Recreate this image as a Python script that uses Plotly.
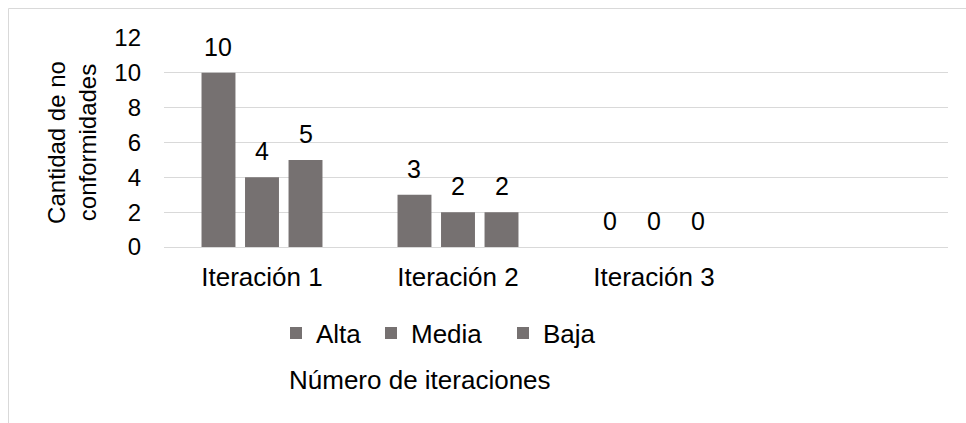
import plotly.graph_objects as go

# Non-conformities found per iteration, split by severity
iteraciones = ["Iteración 1", "Iteración 2", "Iteración 3", ""]
severidades = ["Alta", "Media", "Baja"]
alta = [10, 3, 0]
media = [4, 2, 0]
baja = [5, 2, 0]
series = [alta, media, baja]

y_ticks = [0, 2, 4, 6, 8, 10, 12]

BAR_COLOR = "#767171"
GRID_COLOR = "#d9d9d9"
FONT = "Liberation Sans, Arial, sans-serif"

BARGAP = 0.334
BARGROUPGAP = 0.22

# plot-area geometry in pixels
L, R, T, B = 164, 948, 38, 247
W, H = R - L, B - T


def px_x(px):
    return (px - L) / W


def px_y(py):
    return (B - py) / H


# left edge (px) of each legend entry
legend_left = [276, 371, 503]
legend_ids = ["legend", "legend2", "legend3"]

fig = go.Figure()
for name, vals, lid in zip(severidades, series, legend_ids):
    fig.add_trace(go.Bar(
        name=name,
        x=iteraciones[:len(vals)],
        y=vals,
        marker=dict(color=BAR_COLOR, line=dict(width=0)),
        legend=lid,
    ))

# value labels above each bar, placed at the grouped-bar offsets
slot = (1 - BARGAP) / len(series)
annotations = []
for j, vals in enumerate(series):
    off = (j - (len(series) - 1) / 2) * slot
    for i, v in enumerate(vals):
        annotations.append(dict(
            x=i + off, y=v, xref="x", yref="y",
            text=str(v), showarrow=False,
            yanchor="bottom", yshift=10,
            font=dict(family=FONT, size=25, color="#000000"),
        ))

# x-axis title below the legend
annotations.append(dict(
    x=px_x(420), y=px_y(380), xref="paper", yref="paper",
    text="Número de iteraciones", showarrow=False,
    font=dict(family=FONT, size=26, color="#000000"),
    xanchor="center", yanchor="middle",
))

legend_style = dict(
    orientation="h", xanchor="left", yanchor="middle", y=px_y(333),
    font=dict(family=FONT, size=26, color="#000000"),
    itemclick=False, bgcolor="rgba(0,0,0,0)",
)

fig.update_layout(
    width=966, height=423,
    margin=dict(l=L, r=966 - R, t=T, b=423 - B),
    paper_bgcolor="white", plot_bgcolor="white",
    barmode="group", bargap=BARGAP, bargroupgap=BARGROUPGAP,
    font=dict(family=FONT, size=25, color="#000000"),
    showlegend=True,
    annotations=annotations,
    shapes=[
        dict(type="rect", xref="paper", yref="paper",
             x0=px_x(8.5), x1=1.3,
             y0=-1.0, y1=px_y(8.5),
             line=dict(color=GRID_COLOR, width=1), layer="below"),
    ],
)
for lid, left in zip(legend_ids, legend_left):
    fig.update_layout({lid: dict(legend_style, x=px_x(left))})

fig.update_xaxes(
    type="category", categoryorder="array", categoryarray=iteraciones,
    range=[-0.5, len(iteraciones) - 0.5],
    showgrid=False, zeroline=False, showline=False,
    ticks="", ticklabelstandoff=12,
    tickfont=dict(family=FONT, size=26, color="#000000"),
)
fig.update_yaxes(
    range=[0, 12], tickvals=y_ticks,
    showgrid=True, gridcolor=GRID_COLOR, gridwidth=1,
    zeroline=True, zerolinecolor=GRID_COLOR, zerolinewidth=1,
    showline=False, ticks="", ticklabelstandoff=22,
    tickfont=dict(family=FONT, size=24, color="#000000"),
    title=dict(text="Cantidad de no<br>conformidades", standoff=10,
               font=dict(family=FONT, size=24, color="#000000")),
)

fig.write_html("out.html")
